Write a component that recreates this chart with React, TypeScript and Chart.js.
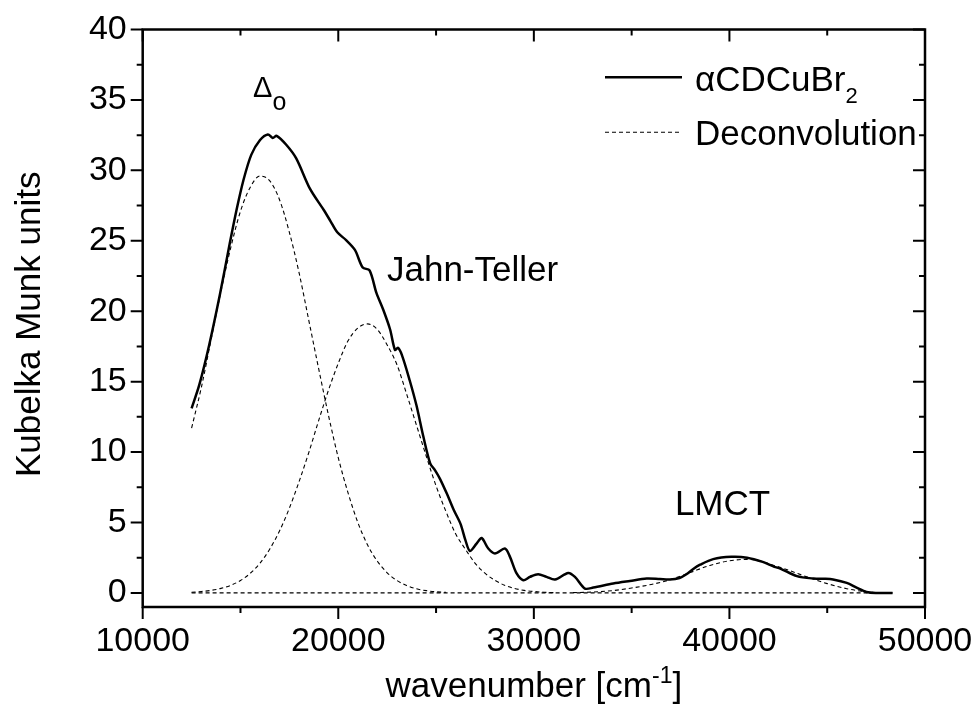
import React, { useEffect, useRef } from "react";
import { Chart, registerables } from "chart.js";

Chart.register(...registerables);

const FONT = "'Liberation Sans', Arial, Helvetica, sans-serif";

// Measured diffuse-reflectance spectrum (Kubelka–Munk units vs wavenumber, cm^-1)
const spectrumWavenumber = [
  12500, 12900, 13400, 13950, 14450, 14800, 15150, 15550, 16000, 16400, 16650, 16850,
  17350, 17850, 18550, 19250, 19600, 19950, 20400, 20850, 21250, 21600, 21950, 22300,
  22650, 22900, 23050, 23250, 23650, 24000, 24350, 24700, 24950, 25200, 25550, 25900,
  26250, 26500, 26730, 27070, 27330, 27670, 28010, 28520, 28780, 29120, 29460, 29800,
  30220, 30650, 31080, 31760, 32100, 32610, 33040, 34060, 34910, 35770, 36450, 36950,
  37450, 37800, 38150, 38500, 39170, 40100, 40900, 41700, 42300, 42600, 43450, 44300,
  44900, 45300, 46000, 46500, 47010, 47520, 48340,
];
const spectrumKM = [
  13.1, 14.8, 17.6, 21.2, 24.8, 27.2, 29.3, 31.1, 32.15, 32.55, 32.3, 32.45,
  31.8, 30.85, 28.7, 27.2, 26.4, 25.6, 25.05, 24.35, 23.1, 22.9, 21.3, 20.1,
  18.7, 17.25, 17.4, 16.9, 15.1, 13.3, 11.1, 9.2, 8.7, 8.1, 7.05, 5.9,
  4.9, 3.75, 2.98, 3.5, 3.9, 3.15, 2.8, 3.15, 2.56, 1.38, 0.9, 1.14,
  1.33, 1.14, 0.95, 1.42, 1.14, 0.31, 0.38, 0.67, 0.85, 1.02, 0.98, 0.95,
  1.06, 1.32, 1.7, 2.0, 2.4, 2.56, 2.5, 2.2, 1.85, 1.73, 1.19, 1.02,
  1.0, 0.95, 0.71, 0.38, 0.07, 0.0, 0.0,
];

// Deconvolution components (ligand-field band, Jahn–Teller band, LMCT band, baseline)
const bandOX = [
  12500, 13000, 13500, 14000, 14500, 15000, 15500, 16000, 16500, 17000, 17500, 18000,
  18500, 19000, 19500, 20000, 20500, 21000, 21500, 22000, 22500, 23000, 23500, 24000,
  24500, 25000, 25500,
];
const bandOY = [
  11.7, 14.6, 18.0, 21.4, 24.5, 27.1, 28.8, 29.6, 29.25, 27.9, 25.6, 22.7,
  19.3, 15.9, 12.6, 9.6, 7.1, 5.0, 3.4, 2.25, 1.43, 0.88, 0.52, 0.29,
  0.16, 0.08, 0.04,
];

const bandJTX = [
  12500, 13000, 13500, 14000, 14500, 15000, 15500, 16000, 16500, 17000, 17500, 18000,
  18500, 19000, 19500, 20000, 20500, 21000, 21500, 22000, 22500, 23000, 23500, 24000,
  24500, 25000, 25500, 26000, 26500, 27000, 27500, 28000, 28500, 29000, 29500, 30000,
  30500, 31000,
];
const bandJTY = [
  0.05, 0.1, 0.18, 0.32, 0.54, 0.88, 1.39, 2.12, 3.12, 4.41, 6.02, 7.92,
  10.0, 12.25, 14.4, 16.3, 17.9, 18.8, 19.1, 18.7, 17.6, 16.2, 14.1, 11.9,
  9.7, 7.6, 5.8, 4.2, 3.1, 2.1, 1.4, 0.9, 0.55, 0.32, 0.18, 0.1,
  0.05, 0.02,
];

const bandLMCTX = [
  32000, 33000, 34000, 35000, 36000, 37000, 38000, 39000, 40000, 40900, 41500, 42000,
  43000, 44000, 45000, 46000, 47000, 47500, 48000,
];
const bandLMCTY = [
  0.02, 0.06, 0.16, 0.35, 0.6, 0.95, 1.45, 1.95, 2.28, 2.38, 2.3, 2.08,
  1.62, 1.12, 0.66, 0.3, 0.08, 0.02, 0.0,
];

const baselineX = [12500, 48340];
const baselineY = [0, 0];

const xTickValues = [10000, 20000, 30000, 40000, 50000];
const yTickValues = [0, 5, 10, 15, 20, 25, 30, 35, 40];
const xMinorStep = 5000;
const yMinorStep = 2.5;

const X_MIN = 10000;
const X_MAX = 50000;
const Y_MIN = -1;
const Y_MAX = 40;

const toPoints = (xs: number[], ys: number[]) => xs.map((x, i) => ({ x, y: ys[i] }));

type Part = { t: string; size: number; dy?: number };

function partsWidth(ctx: CanvasRenderingContext2D, parts: Part[]) {
  let w = 0;
  for (const p of parts) {
    ctx.font = `${p.size}px ${FONT}`;
    w += ctx.measureText(p.t).width;
  }
  return w;
}

function drawParts(ctx: CanvasRenderingContext2D, x: number, y: number, parts: Part[]) {
  let cx = x;
  for (const p of parts) {
    ctx.font = `${p.size}px ${FONT}`;
    ctx.fillText(p.t, cx, y + (p.dy ?? 0));
    cx += ctx.measureText(p.t).width;
  }
}

const zeroScalePadding = (s: any) => {
  s.paddingTop = 0;
  s.paddingBottom = 0;
  s.paddingLeft = 0;
  s.paddingRight = 0;
};

const framePlugin = {
  id: "frameAndLabels",
  afterDraw(chart: any) {
    const { ctx, chartArea: a, scales } = chart;
    const xs = scales.x;
    const ys = scales.y;
    ctx.save();
    ctx.strokeStyle = "#000";
    ctx.fillStyle = "#000";

    // Box frame
    ctx.lineWidth = 2.5;
    ctx.strokeRect(a.left, a.top, a.right - a.left, a.bottom - a.top);

    // Ticks: outward on left/bottom, inward on top/right
    const major = 12;
    const minor = 6;
    ctx.lineWidth = 2;
    ctx.beginPath();
    for (let v = X_MIN; v <= X_MAX; v += xMinorStep) {
      const px = xs.getPixelForValue(v);
      const len = xTickValues.includes(v) ? major : minor;
      ctx.moveTo(px, a.bottom);
      ctx.lineTo(px, a.bottom + len);
      ctx.moveTo(px, a.top);
      ctx.lineTo(px, a.top + len);
    }
    for (let v = 0; v <= Y_MAX; v += yMinorStep) {
      const py = ys.getPixelForValue(v);
      const len = yTickValues.includes(v) ? major : minor;
      ctx.moveTo(a.left, py);
      ctx.lineTo(a.left - len, py);
      ctx.moveTo(a.right, py);
      ctx.lineTo(a.right - len, py);
    }
    ctx.stroke();

    // Axis titles
    ctx.textBaseline = "alphabetic";
    ctx.textAlign = "left";
    const xTitle: Part[] = [
      { t: "wavenumber [cm", size: 35 },
      { t: "-1", size: 23, dy: -14 },
      { t: "]", size: 35 },
    ];
    const w = partsWidth(ctx, xTitle);
    drawParts(ctx, (a.left + a.right) / 2 - w / 2, 697, xTitle);

    ctx.save();
    ctx.translate(40, 477);
    ctx.rotate(-Math.PI / 2);
    ctx.font = `35px ${FONT}`;
    ctx.fillText("Kubelka Munk units", 0, 0);
    ctx.restore();

    // Legend
    ctx.lineWidth = 2.5;
    ctx.setLineDash([]);
    ctx.beginPath();
    ctx.moveTo(605, 77.3);
    ctx.lineTo(682, 77.3);
    ctx.stroke();
    ctx.lineWidth = 1.1;
    ctx.setLineDash([4, 3]);
    ctx.beginPath();
    ctx.moveTo(605, 132.3);
    ctx.lineTo(682, 132.3);
    ctx.stroke();
    ctx.setLineDash([]);
    drawParts(ctx, 695, 90.7, [
      { t: "\u03B1CDCuBr", size: 35 },
      { t: "2", size: 22, dy: 12 },
    ]);
    drawParts(ctx, 695, 145, [{ t: "Deconvolution", size: 35 }]);

    // Band assignments placed at data coordinates
    const bx = (v: number) => xs.getPixelForValue(v);
    const by = (v: number) => ys.getPixelForValue(v);
    drawParts(ctx, bx(15640), by(35.2), [
      { t: "\u0394", size: 29 },
      { t: "o", size: 25, dy: 13 },
    ]);
    drawParts(ctx, bx(22490), by(22.14), [{ t: "Jahn-Teller", size: 35 }]);
    drawParts(ctx, bx(37211), by(5.52), [{ t: "LMCT", size: 35 }]);

    ctx.restore();
  },
};

export default function App() {
  const canvasRef = useRef<HTMLCanvasElement | null>(null);

  useEffect(() => {
    const canvas = canvasRef.current;
    if (!canvas) return;

    const dashed = {
      borderColor: "#000",
      borderWidth: 1.1,
      borderDash: [4, 3],
      pointRadius: 0,
      fill: false,
      cubicInterpolationMode: "monotone" as const,
    };

    const chart = new Chart(canvas, {
      type: "line",
      data: {
        datasets: [
          { label: "Deconvolution", data: toPoints(baselineX, baselineY), ...dashed, borderWidth: 1.4 },
          { label: "Deconvolution", data: toPoints(bandOX, bandOY), ...dashed },
          { label: "Deconvolution", data: toPoints(bandJTX, bandJTY), ...dashed },
          { label: "Deconvolution", data: toPoints(bandLMCTX, bandLMCTY), ...dashed },
          {
            label: "αCDCuBr2",
            data: toPoints(spectrumWavenumber, spectrumKM),
            borderColor: "#000",
            borderWidth: 2.5,
            pointRadius: 0,
            fill: false,
            tension: 0.3,
          },
        ],
      },
      options: {
        animation: false,
        responsive: false,
        devicePixelRatio: 1,
        events: [],
        layout: { padding: { left: 0, top: 29.5, right: 49, bottom: 0 } },
        plugins: {
          legend: { display: false },
          tooltip: { enabled: false },
        },
        scales: {
          x: {
            type: "linear",
            min: X_MIN,
            max: X_MAX,
            border: { display: false },
            grid: { display: false, drawTicks: false },
            afterBuildTicks: (s: any) => {
              s.ticks = xTickValues.map((value) => ({ value }));
            },
            afterFit: (s: any) => {
              s.height = 116;
              zeroScalePadding(s);
            },
            ticks: {
              color: "#000",
              padding: 14,
              maxRotation: 0,
              autoSkip: false,
              font: { family: FONT, size: 34 },
              callback: (v: any) => String(v),
            },
          },
          y: {
            type: "linear",
            min: Y_MIN,
            max: Y_MAX,
            border: { display: false },
            grid: { display: false, drawTicks: false },
            afterBuildTicks: (s: any) => {
              s.ticks = yTickValues.map((value) => ({ value }));
            },
            afterFit: (s: any) => {
              s.width = 142.7;
              zeroScalePadding(s);
            },
            ticks: {
              color: "#000",
              padding: 16,
              autoSkip: false,
              font: { family: FONT, size: 34 },
              callback: (v: any) => String(v),
            },
          },
        },
      },
      plugins: [framePlugin],
    });

    return () => chart.destroy();
  }, []);

  return (
    <div style={{ position: "absolute", left: 0, top: 0, width: 974, height: 723, background: "#fff" }}>
      <canvas ref={canvasRef} width={974} height={723} style={{ display: "block", width: 974, height: 723 }} />
    </div>
  );
}
